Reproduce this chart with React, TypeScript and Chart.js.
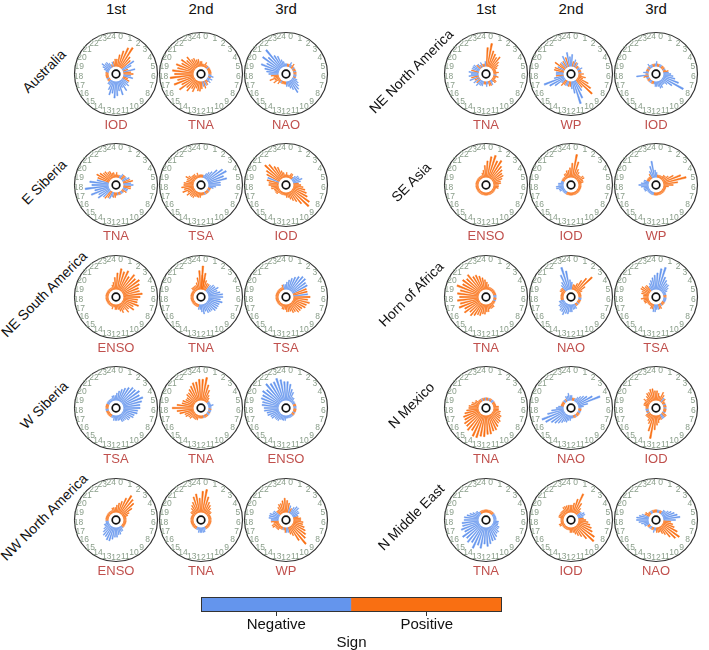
import React, { useEffect, useRef } from "react";
import { Chart, registerables } from "chart.js";

Chart.register(...registerables);

// ---- labels ----
const HOURS = ["0", "1", "2", "3", "4", "5", "6", "7", "8", "9", "10", "11", "12", "13", "14", "15", "16", "17", "18", "19", "20", "21", "22", "23", "24"];
const RANKS = ["1st", "2nd", "3rd"];
const LEFT_REGIONS = ["Australia", "E Siberia", "NE South America", "W Siberia", "NW North America"];
const RIGHT_REGIONS = ["NE North America", "SE Asia", "Horn of Africa", "N Mexico", "N Middle East"];
const LEFT_INDICES = [
  ["IOD", "TNA", "NAO"],
  ["TNA", "TSA", "IOD"],
  ["ENSO", "TNA", "TSA"],
  ["TSA", "TNA", "ENSO"],
  ["ENSO", "TNA", "WP"],
];
const RIGHT_INDICES = [
  ["TNA", "WP", "IOD"],
  ["ENSO", "IOD", "WP"],
  ["TNA", "NAO", "TSA"],
  ["TNA", "NAO", "IOD"],
  ["TNA", "IOD", "NAO"],
];
const SIGNS = ["Negative", "Positive"];

// ---- spoke values: two spokes per hour slot 0..24, sign = colour ----
const australia1 = [3, 5, 7, 9, 10, 6, 5, -6, -4, 2, -5, 3, 4, -3, -4, 2, 3, -3, -4, -3, -5, -3, -6, -4, -6, -7, -5, -6, -4, -2, -2, 1, 1, -1, 1, 1, 1, 1, 1, -1, -2, -3, -4, -3, -3, -2, 1, -2, 2, 3];
const australia2 = [2, 1, 1, 2, 1, 1, -1, 1, 1, 1, 1, 1, 1, -1, -2, 1, -2, -1, -2, 1, 2, -2, 3, -2, 3, 4, 4, 3, 5, 4, 6, 5, 8, 6, 9, 7, 10, 8, 9, 7, 8, 6, 7, 5, 6, 4, 4, 3, 3, 2];
const australia3 = [-1, 1, 1, -2, -1, 2, 1, -1, 1, 1, -1, 1, 1, -1, -1, 1, -2, -3, -4, -5, -6, -4, -3, -2, -2, 1, 1, 1, 1, -1, 2, 1, 3, 2, 4, 2, 3, -4, -5, -6, -8, -6, -9, -7, -10, -6, -5, -3, -2, -1];
const eSiberia1 = [2, 1, 1, -1, -2, 2, 2, -2, -3, 3, 4, -3, -4, 3, 3, -2, -2, 2, 1, -1, -1, 1, 1, -1, 1, 2, 2, -2, -3, 3, 4, -4, -6, -5, -8, -6, -10, -7, -8, -5, 5, 6, 5, 4, 4, 3, 3, 2, 2, 1];
const eSiberia2 = [1, 1, -1, -2, -3, -4, -6, -8, -9, -7, -8, -5, -5, -3, -2, 1, 1, -1, 1, 1, 1, -1, 1, 1, 1, 2, 2, 2, 2, 3, 3, 3, 4, 3, 5, 4, 5, 4, 4, 3, 3, 4, 3, 2, 2, 2, 1, 2, 1, 1];
const eSiberia3 = [2, 1, 1, 2, 2, 1, -2, -3, -3, -4, -3, 2, 3, 4, 5, 6, 7, 9, 10, 7, 5, 4, 3, 2, 2, 1, 1, 1, 1, 1, 1, 2, 2, 2, 2, 3, 3, 4, 4, 5, -5, 6, 7, 9, 8, 6, 5, 3, 2, 1];
const neSouthAmerica1 = [7, 9, 8, 9, 7, 9, 8, 9, 8, 7, 7, 8, 7, 6, 6, 7, 5, 6, 4, 5, 3, 4, 3, 2, 2, 2, 1, 2, 1, 1, 1, 1, 1, 1, 1, 1, 1, 1, 1, 1, 1, 1, 1, 1, 1, 1, 1, 2, 3, 5];
const neSouthAmerica2 = [6, 5, 4, 3, 3, -3, -4, -4, -5, -4, -5, -6, -6, -5, -6, -5, -5, -5, -5, -4, -4, -4, -3, -4, -3, -2, -2, 1, 1, 1, 1, 1, 1, 1, 1, 1, 1, 1, 1, 1, 1, 1, 1, 2, 2, 2, 2, 3, 5, 8, 10, 7];
const neSouthAmerica3 = [-3, -4, -5, -6, -7, -8, -8, -7, -7, 6, 6, -6, 7, 6, 7, 6, 6, 5, 5, 5, 4, 4, 3, 3, 3, 2, 2, 2, 1, 1, 1, 1, 1, 1, 1, 1, 1, 1, 1, 1, 1, 1, 1, 1, 1, 1, 1, 2, -2, -2];
const wSiberia1 = [-3, -4, -5, -6, -7, -8, -8, -9, -8, -9, -8, -7, -7, -6, -6, -5, -5, -4, -4, -3, -3, -3, -2, -2, -2, -2, -2, -1, -1, 1, 1, 1, 1, 1, 1, -1, -1, 1, 1, 1, 1, -1, -1, -1, -1, -1, -1, -2, -2, -2];
const wSiberia2 = [9, 10, 7, 5, 3, 2, 1, -1, -1, -1, -2, -1, -1, 1, -1, -1, 1, -1, -1, 1, 1, 1, -1, 1, 1, 1, 1, 2, 2, 2, 2, 3, 3, 4, 4, 6, 7, 9, 7, 5, 5, 4, 4, 5, 5, 6, 7, 8, 8, 9];
const wSiberia3 = [-8, -7, -5, -4, -2, -2, -1, -1, -1, 1, 1, -1, -1, 1, 1, 1, -1, 1, 1, -1, -1, -1, -1, -1, -1, -2, -2, -2, -2, -3, -3, -3, -4, -4, -5, -5, -6, -6, -7, -7, -8, -8, -9, -8, -10, -9, -9, -10, -9, -8];
const nwNorthAmerica1 = [3, 4, 5, 7, 9, 8, 7, 5, 3, 2, 1, 1, 1, 1, 1, 1, 1, 1, 1, -1, -2, -2, -3, -3, -4, -4, -5, -6, -6, -5, -5, -4, -3, -2, -2, -1, -1, 1, 1, 1, 1, 1, 1, 1, 1, 1, 1, 2, 2, 2];
const nwNorthAmerica2 = [9, 10, 7, 5, 4, 3, 2, 2, 1, 1, 1, 1, 1, 1, 1, 1, 1, 1, 1, 1, 1, -1, -2, -2, -2, -2, -2, -1, -1, 1, 1, 1, 1, 1, 1, 1, 1, 1, 1, 1, 1, 1, 2, 2, 3, 4, 5, 7, 8, 6];
const nwNorthAmerica3 = [5, 4, -3, 2, -3, -4, -4, -3, -3, -2, 2, 3, 3, 4, 4, 5, 6, 7, 8, 10, 7, 4, 3, -2, -2, 2, 1, -1, 1, 1, 2, 2, 2, 3, 3, 2, 3, -3, -4, -4, -4, -3, -3, 2, 2, 3, 4, 4, 5, 6];

const neNorthAmerica1 = [8, 10, 7, 6, 5, 6, 4, 3, 2, 1, 1, 2, 1, -1, 2, 1, 1, 2, 2, -1, -2, 2, 2, -1, -2, 1, 1, -2, -2, -2, -3, 2, -3, 2, -4, 3, -4, -3, -4, 3, -3, -3, -3, 2, -2, 1, -2, 1, 1, -2];
const neNorthAmerica2 = [-5, 2, -3, 2, -2, 1, 1, -1, -2, 1, 1, -1, 2, 1, 3, 2, 5, 7, 9, 4, -5, -8, -10, -5, -3, 2, 2, -2, -2, 2, 3, -2, -5, -7, -9, -4, 3, -3, -3, 4, 4, -3, 5, 3, -3, 3, -5, 4, -6, -4];
const neNorthAmerica3 = [-2, 1, 1, -1, -1, 1, 1, 1, -1, 1, 2, -2, -3, -4, -5, -7, -10, -5, -3, -2, -2, -3, -3, -2, -2, -2, -1, 1, 1, -1, -1, 1, 1, -1, -1, 2, -5, 1, -2, -1, 1, 1, -1, 1, -2, -1, -1, 1, 1, -1];
const seAsia1 = [7, 9, 10, 8, 9, 7, 6, 5, 5, 4, 3, 3, 2, 2, 2, 1, 1, 1, 1, 1, 1, 1, 1, 1, 1, 1, 1, 1, 1, 1, 1, 1, 1, 1, 1, 1, 1, 1, 1, 1, 1, 1, 1, 1, 1, 1, 1, 2, 3, 5];
const seAsia2 = [6, 10, 7, 4, 3, 2, 2, 3, 3, 2, 2, 1, 1, 1, 1, 1, 1, 1, 1, 1, 1, 1, 1, 1, 1, 1, 1, 1, 1, -1, -1, -1, -1, -2, -2, -3, -3, -2, -2, -1, -1, 1, 1, 1, 1, 2, 2, 3, 3, 4];
const seAsia3 = [-2, 1, 1, 1, 1, 2, 2, 3, 5, 8, 10, 6, 4, 2, 1, 1, 1, 1, 1, 1, 1, 1, 1, 1, 1, 1, 1, -1, -1, -1, -1, -1, -1, -2, -2, -2, -3, -4, -3, -2, -2, 1, 1, 1, 1, 2, -3, -5, -7, -3];
const hornOfAfrica1 = [3, 2, 1, 1, 1, 1, 1, 1, 1, 1, 1, -1, -1, 1, 1, -1, 1, 1, 1, 2, 2, 2, 2, 3, 3, 4, 4, 5, 5, 6, 7, 6, 8, 7, 9, 8, 9, 8, 9, 8, 10, 8, 9, 8, 9, 7, 7, 6, 5, 4];
const hornOfAfrica2 = [-3, 2, 2, 3, 5, 7, 9, 4, 2, 1, 1, 1, 1, -1, -1, 1, 1, 1, -1, 1, 1, -2, -2, -2, -3, -3, -4, -4, -5, -4, -4, -3, -3, -2, -2, 1, 1, 1, 1, 1, 1, 2, 2, 2, -3, -4, -7, -10, -8, -4];
const hornOfAfrica3 = [-7, -9, -10, -6, -5, -4, -4, -3, -2, -1, -1, 1, 1, -1, -1, -1, -1, 1, 1, 1, -1, 2, 2, -2, -2, -3, -3, 2, 2, 1, 1, 1, 1, 2, 2, 2, 3, 2, 2, 3, 3, 4, 4, 3, 3, -2, -3, -4, -5, -6];
const nMexico1 = [1, 1, -1, 1, 1, -1, -1, 1, 1, 1, 1, 2, 2, 2, 3, 3, 4, 4, 5, 5, 6, 7, 7, 8, 8, 9, 9, 10, 10, 8, 9, 8, 8, 7, 7, 6, 5, 4, 4, 3, 3, 2, 2, 1, 1, 1, -1, 1, 1, -1];
const nMexico2 = [-2, 1, 1, -1, -2, -3, -4, -5, -7, -10, -4, -2, -1, 1, 1, -1, -1, 1, 1, 1, -1, 1, 1, -1, -1, -2, -2, -3, -3, -4, -5, -6, -7, -9, -10, -7, -5, -3, -2, 1, 1, 1, 1, -1, -1, 1, -2, -2, -3, -2];
const nMexico3 = [4, 3, 2, 4, 3, -2, 2, 1, 1, -1, 1, 1, -1, 1, 1, 1, -1, 2, 2, -2, -2, 2, 2, 3, 4, 6, 10, 7, 4, 3, 2, 2, 2, -1, 1, -1, -1, 1, 1, 2, 2, 2, 3, 2, 3, 4, 4, 5, 5, 4];
const nMiddleEast1 = [1, 1, 1, 1, 1, 1, 1, -1, -1, -1, -1, -1, -1, -2, -2, -2, -3, -3, -4, -4, -5, -6, -6, -7, -8, -7, -9, -8, -10, -8, -9, -8, -9, -7, -8, -7, -7, -6, -6, -5, -4, -3, -2, -2, -1, 1, 1, 1, 1, 1];
const nMiddleEast2 = [3, 4, 6, 9, 5, 3, 2, -2, -3, -3, -2, 2, 3, 4, 5, 6, 7, 9, 10, 7, 5, 4, 3, 2, 2, 2, 1, 1, 1, 1, 1, 1, 1, 2, 2, 1, 1, 1, 1, 2, 2, 2, 2, 2, 2, 3, 3, 3, 3, 3];
const nMiddleEast3 = [1, -1, -1, 1, 1, -2, -2, -3, -4, -5, -6, -7, -5, 3, 4, 5, 7, 9, 8, 6, 4, 3, 2, 2, 2, -1, -2, 1, 1, -1, -1, 1, 1, -2, -2, -3, -4, -5, -5, -4, -3, 2, 2, 1, 1, -1, -1, 1, 1, 1];

const LEFT_PANELS = [
  [australia1, australia2, australia3],
  [eSiberia1, eSiberia2, eSiberia3],
  [neSouthAmerica1, neSouthAmerica2, neSouthAmerica3],
  [wSiberia1, wSiberia2, wSiberia3],
  [nwNorthAmerica1, nwNorthAmerica2, nwNorthAmerica3],
];
const RIGHT_PANELS = [
  [neNorthAmerica1, neNorthAmerica2, neNorthAmerica3],
  [seAsia1, seAsia2, seAsia3],
  [hornOfAfrica1, hornOfAfrica2, hornOfAfrica3],
  [nMexico1, nMexico2, nMexico3],
  [nMiddleEast1, nMiddleEast2, nMiddleEast3],
];

// ---- styling / layout ----
const BLUE = "#6495ed";
const ORANGE = "#f96f12";
const INDEX_COLOR = "#c0504d";
const HOUR_COLOR = "#8a9e8a";
const FONT = "'Liberation Sans', Arial, Helvetica, sans-serif";

const SIZE = 90; // canvas side of one dial
const R_MIN = -3.5; // inner offset so spokes begin outside the hub
const R_MAX = 10;
const SPOKE_DEG = 3.0;
const GAP_DEG = 4.2;
const LEFT_X = [116, 201, 286];
const RIGHT_X = [486, 571, 656];
const ROW_Y = [74, 185, 297, 408, 520];

const dialPlugin = {
  id: "dial",
  afterDatasetsDraw(chart: any) {
    const r = chart.scales.r;
    const ctx = chart.ctx;
    const cx = r.xCenter;
    const cy = r.yCenter;
    ctx.save();
    // hub
    ctx.fillStyle = "#fff";
    ctx.beginPath();
    ctx.arc(cx, cy, 7.5, 0, Math.PI * 2);
    ctx.fill();
    ctx.strokeStyle = "#111";
    ctx.lineWidth = 1.7;
    ctx.beginPath();
    ctx.arc(cx, cy, 3.8, 0, Math.PI * 2);
    ctx.stroke();
    // rim
    ctx.strokeStyle = "#333";
    ctx.lineWidth = 1.2;
    ctx.beginPath();
    ctx.arc(cx, cy, 41.5, 0, Math.PI * 2);
    ctx.stroke();
    // hour numerals
    ctx.fillStyle = HOUR_COLOR;
    ctx.font = "8.5px " + FONT;
    ctx.textAlign = "center";
    ctx.textBaseline = "middle";
    const step = 360 / HOURS.length;
    HOURS.forEach((h, i) => {
      const a = ((step / 2 + step * i) * Math.PI) / 180;
      ctx.fillText(h, cx + 37.5 * Math.sin(a), cy - 37.5 * Math.cos(a));
    });
    ctx.restore();
  },
};

function Rose({ values, cx, cy }: { values: number[]; cx: number; cy: number }) {
  const ref = useRef<HTMLCanvasElement>(null);
  useEffect(() => {
    const data: number[] = [];
    const colors: string[] = [];
    const labels: string[] = [];
    values.forEach((v, i) => {
      data.push(Math.abs(v));
      colors.push(v < 0 ? BLUE : ORANGE);
      labels.push("s" + i);
      data.push(R_MIN);
      colors.push("rgba(0,0,0,0)");
      labels.push("g" + i);
    });
    const chart = new Chart(ref.current as HTMLCanvasElement, {
      type: "polarArea",
      data: {
        labels,
        datasets: [
          {
            data,
            backgroundColor: colors,
            borderColor: colors,
            borderWidth: 0.5,
            angle: (c: any) => (c.dataIndex % 2 === 0 ? SPOKE_DEG : GAP_DEG),
          } as any,
        ],
      },
      options: {
        responsive: false,
        animation: false,
        events: [],
        layout: { padding: SIZE / 2 - 31 },
        plugins: { legend: { display: false }, tooltip: { enabled: false } },
        scales: {
          r: {
            min: R_MIN,
            max: R_MAX,
            startAngle: 2.1,
            ticks: { display: false },
            grid: { display: false },
            angleLines: { display: false },
            pointLabels: { display: false },
          },
        },
      } as any,
      plugins: [dialPlugin],
    });
    return () => chart.destroy();
  }, [values]);
  return (
    <canvas
      ref={ref}
      width={SIZE}
      height={SIZE}
      style={{ position: "absolute", left: Math.round(cx - SIZE / 2), top: Math.round(cy - SIZE / 2), width: SIZE, height: SIZE }}
    />
  );
}

// outline around the two colour blocks
const framePlugin = {
  id: "frame",
  afterDatasetsDraw(chart: any) {
    const els = chart.getDatasetMeta(0).data;
    const first = els[0];
    const last = els[els.length - 1];
    const left = Math.round(first.x - first.width / 2) + 0.5;
    const right = Math.round(last.x + last.width / 2) - 0.5;
    const top = Math.round(first.y) + 0.5;
    const bottom = Math.round(first.base) - 0.5;
    const ctx = chart.ctx;
    ctx.save();
    ctx.strokeStyle = "#333";
    ctx.lineWidth = 1;
    ctx.strokeRect(left, top, right - left, bottom - top);
    ctx.restore();
  },
};

function SignBar() {
  const ref = useRef<HTMLCanvasElement>(null);
  useEffect(() => {
    const chart = new Chart(ref.current as HTMLCanvasElement, {
      type: "bar",
      data: {
        labels: SIGNS,
        datasets: [
          {
            data: [1, 1],
            backgroundColor: [BLUE, ORANGE],
            borderWidth: 0,
            barPercentage: 1,
            categoryPercentage: 1,
          },
        ],
      },
      options: {
        responsive: false,
        animation: false,
        events: [],
        layout: { padding: { left: 6, right: 6, top: 0, bottom: 0 } },
        plugins: { legend: { display: false }, tooltip: { enabled: false } },
        scales: {
          y: { display: false, min: 0, max: 2.6 },
          x: {
            offset: true,
            grid: { display: true, drawOnChartArea: false, drawTicks: true, tickLength: 4, offset: false, color: "#333" },
            border: { display: false },
            ticks: { color: "#111", padding: 1, font: { size: 15, family: FONT, lineHeight: 1 } },
            title: { display: true, text: "Sign", color: "#111", padding: { top: 2, bottom: 0 }, font: { size: 15, family: FONT, lineHeight: 1 } },
          },
        },
      } as any,
      plugins: [framePlugin],
    });
    return () => chart.destroy();
  }, []);
  return <canvas ref={ref} width={313} height={76} style={{ position: "absolute", left: 195, top: 574, width: 313, height: 76 }} />;
}

function TextAt({ x, y, text, size, color, rotate }: { x: number; y: number; text: string; size: number; color: string; rotate?: number }) {
  return (
    <div
      style={{
        position: "absolute",
        left: x,
        top: y,
        transform: `translate(-50%, -50%)${rotate ? ` rotate(${rotate}deg)` : ""}`,
        whiteSpace: "nowrap",
        fontSize: size,
        lineHeight: 1,
        color,
        fontFamily: FONT,
      }}
    >
      {text}
    </div>
  );
}

export default function App() {
  const groups = [
    { xs: LEFT_X, regions: LEFT_REGIONS, indices: LEFT_INDICES, panels: LEFT_PANELS, labelX: 44 },
    { xs: RIGHT_X, regions: RIGHT_REGIONS, indices: RIGHT_INDICES, panels: RIGHT_PANELS, labelX: 411 },
  ];
  return (
    <div style={{ position: "absolute", left: 0, top: 0, width: 709, height: 650, background: "#fff", overflow: "hidden", fontFamily: FONT }}>
      {groups.map((g, gi) => (
        <React.Fragment key={gi}>
          {RANKS.map((t, c) => (
            <TextAt key={"h" + c} x={g.xs[c]} y={8} text={t} size={15} color="#111" />
          ))}
          {g.regions.map((reg, row) => (
            <React.Fragment key={reg}>
              <TextAt x={g.labelX} y={ROW_Y[row] - 3} text={reg} size={14} color="#111" rotate={-45} />
              {g.panels[row].map((vals, c) => (
                <React.Fragment key={c}>
                  <Rose values={vals} cx={g.xs[c]} cy={ROW_Y[row]} />
                  <TextAt x={g.xs[c]} y={ROW_Y[row] + 50} text={g.indices[row][c]} size={13} color={INDEX_COLOR} />
                </React.Fragment>
              ))}
            </React.Fragment>
          ))}
        </React.Fragment>
      ))}
      <SignBar />
    </div>
  );
}
